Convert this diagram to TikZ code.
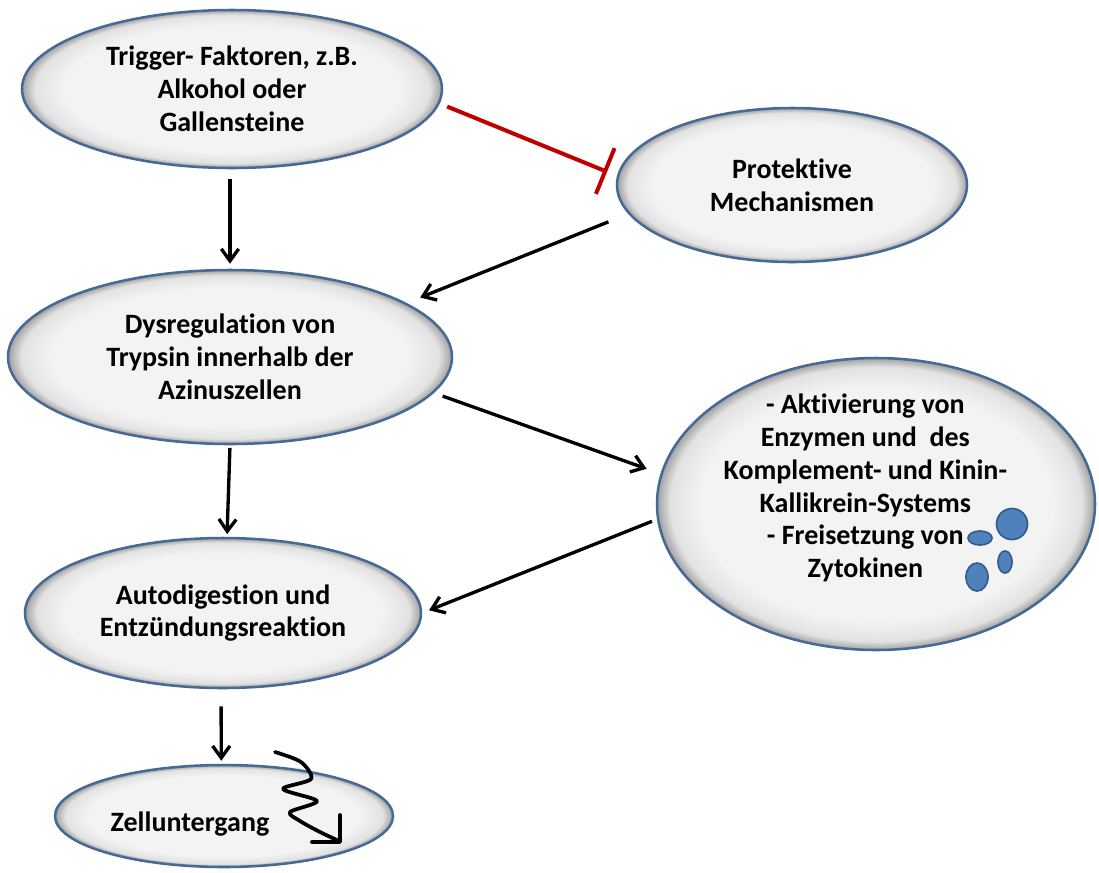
\documentclass[tikz,border=0pt]{standalone}
\usepackage{fontspec}
\setmainfont{Carlito}[Ligatures=NoCommon]
\usetikzlibrary{shapes.geometric, arrows.meta}

\definecolor{ovalrim}{RGB}{70,105,150}
\definecolor{ovalcore}{RGB}{243,243,243}
\definecolor{ovalmid}{RGB}{226,226,226}
\definecolor{ovaledge}{RGB}{160,160,160}
\definecolor{inhibred}{RGB}{192,0,0}
\definecolor{blobfill}{RGB}{79,129,189}
\definecolor{blobrim}{RGB}{56,93,138}

\pgfdeclareradialshading{ovalshade}{\pgfpoint{0bp}{0bp}}{color(0bp)=(ovalcore); color(20bp)=(ovalcore); color(23.5bp)=(ovalmid); color(25bp)=(ovaledge); color(50bp)=(ovaledge)}

\tikzset{
  ovaltext/.style={align=center, font=\bfseries\fontsize{21}{24.6}\selectfont},
  oval/.style={ellipse, draw=ovalrim, line width=1.9pt, shade, shading=ovalshade, inner sep=0pt, ovaltext},
  flow/.style={line width=2.5pt, -{Straight Barb[length=9pt, width=13pt]}},
  inhib/.style={draw=inhibred, line width=3pt, -{Bar[width=37pt]}},
  blob/.style={draw=blobrim, fill=blobfill, line width=1.3pt},
  squiggle/.style={line width=2.8pt, line cap=round, line join=round},
}

\begin{document}
\begin{tikzpicture}[x=0.75pt,y=0.75pt,yscale=-1,xscale=1]
\useasboundingbox (0,0) rectangle (1099,872);

%Shape: Ellipse [trigger]
\node[oval, minimum width=315pt, minimum height=118.5pt] (trig) at (232,89) {Trigger- Faktoren, z.B.\\Alkohol oder\\Gallensteine};
%Shape: Ellipse [protective]
\node[oval, minimum width=262.5pt, minimum height=115.5pt] (prot) at (792,185) {Protektive\\Mechanismen};
%Shape: Ellipse [dysregulation]
\node[oval, minimum width=333pt, minimum height=130.5pt] (dys) at (230,357) {Dysregulation von\\Trypsin innerhalb der\\Azinuszellen};
%Shape: Ellipse [activation]
\node[oval, minimum width=328.5pt, minimum height=219pt,
  label={[ovaltext, xshift=-8pt, yshift=12pt]center:- Aktivierung von\\Enzymen und\ \ des\\Komplement- und Kinin-\\Kallikrein-Systems\\- Freisetzung von\\Zytokinen}] (akt) at (876,504) {};
%Shape: Ellipse [autodigestion]
\node[oval, minimum width=297pt, minimum height=112.5pt] (auto) at (223,613) {Autodigestion und\\Entzündungsreaktion};
%Shape: Ellipse [cell death]
\node[oval, minimum width=253.5pt, minimum height=76.5pt,
  label={[ovaltext, xshift=-25.5pt, yshift=-6pt]center:Zelluntergang}] (zell) at (224,816) {};

%Straight Lines [arrows]
\draw[flow, shorten <=7.5pt, shorten >=3.75pt] ([xshift=-1.5pt]trig.south) -- (dys.north);
\draw[flow, shorten <=16pt, shorten >=11pt] (prot.190) -- (dys.17);
\draw[flow, shorten <=7pt, shorten >=11pt] (dys.-10) -- (akt.172);
\draw[flow, shorten <=4pt, shorten >=5.5pt] (akt.184) -- (auto.east);
\draw[flow, shorten <=2pt, shorten >=2pt] (dys.south) -- ([xshift=3pt]auto.north);
\draw[flow, shorten <=12.75pt, shorten >=2.25pt] ([xshift=-1.5pt]auto.south) -- ([xshift=-2pt]zell.north);
%Straight Lines [inhibition]
\draw[inhib, shorten <=6pt, shorten >=8pt] (trig.-4) -- (prot.177);

%Shape: Ellipses [cytokines]
\draw[blob] (1012,524) circle [radius=15.5];
\draw[blob] (980,538) ellipse [x radius=12, y radius=7];
\draw[blob] (1005,562) ellipse [x radius=7, y radius=11];
\draw[blob] (977,577) ellipse [x radius=11, y radius=14];

%Curve: squiggle
\draw[squiggle] plot[smooth, tension=0.5] coordinates {(275,752) (301,762) (311,779) (283,789) (317,801) (290,812) (300,821) (320,832) (339,841)};
\draw[squiggle] (340,815) -- (340,842) -- (312,842);

\end{tikzpicture}
\end{document}
